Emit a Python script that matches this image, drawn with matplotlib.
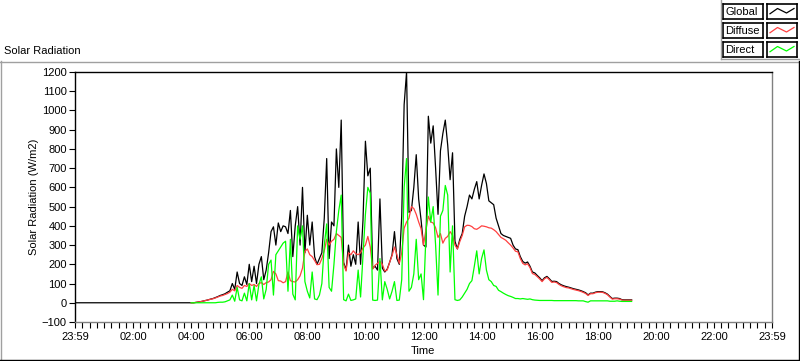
import matplotlib
matplotlib.use("Agg")
import matplotlib.pyplot as plt
from matplotlib.lines import Line2D
from matplotlib.ticker import MultipleLocator

plt.rcParams['font.family'] = ['Liberation Sans', 'DejaVu Sans']
plt.rcParams['font.size'] = 7.5

# sample times (first point is midnight, logger then runs every 5 min from 04:00)
times = ["00:00",
    "04:00", "04:05", "04:10", "04:15", "04:20", "04:25", "04:30", "04:35", "04:40", "04:45", "04:50", "04:55",
    "05:00", "05:05", "05:10", "05:15", "05:20", "05:25", "05:30", "05:35", "05:40", "05:45", "05:50", "05:55",
    "06:00", "06:05", "06:10", "06:15", "06:20", "06:25", "06:30", "06:35", "06:40", "06:45", "06:50", "06:55",
    "07:00", "07:05", "07:10", "07:15", "07:20", "07:25", "07:30", "07:35", "07:40", "07:45", "07:50", "07:55",
    "08:00", "08:05", "08:10", "08:15", "08:20", "08:25", "08:30", "08:35", "08:40", "08:45", "08:50", "08:55",
    "09:00", "09:05", "09:10", "09:15", "09:20", "09:25", "09:30", "09:35", "09:40", "09:45", "09:50", "09:55",
    "10:00", "10:05", "10:10", "10:15", "10:20", "10:25", "10:30", "10:35", "10:40", "10:45", "10:50", "10:55",
    "11:00", "11:05", "11:10", "11:15", "11:20", "11:25", "11:30", "11:35", "11:40", "11:45", "11:50", "11:55",
    "12:00", "12:05", "12:10", "12:15", "12:20", "12:25", "12:30", "12:35", "12:40", "12:45", "12:50", "12:55",
    "13:00", "13:05", "13:10", "13:15", "13:20", "13:25", "13:30", "13:35", "13:40", "13:45", "13:50", "13:55",
    "14:00", "14:05", "14:10", "14:15", "14:20", "14:25", "14:30", "14:35", "14:40", "14:45", "14:50", "14:55",
    "15:00", "15:05", "15:10", "15:15", "15:20", "15:25", "15:30", "15:35", "15:40", "15:45", "15:50", "15:55",
    "16:00", "16:05", "16:10", "16:15", "16:20", "16:25", "16:30", "16:35", "16:40", "16:45", "16:50", "16:55",
    "17:00", "17:05", "17:10", "17:15", "17:20", "17:25", "17:30", "17:35", "17:40", "17:45", "17:50", "17:55",
    "18:00", "18:05", "18:10", "18:15", "18:20", "18:25", "18:30", "18:35", "18:40", "18:45", "18:50", "18:55",
    "19:00", "19:05", "19:10"]

global_wm2 = [0,
    0, 0, 2, 4, 6, 9, 12, 15, 19, 22, 27, 32,
    38, 42, 47, 55, 62, 100, 70, 160, 100, 90, 135, 95,
    200, 110, 190, 100, 200, 240, 120, 170, 260, 370, 395, 300,
    415, 370, 400, 395, 360, 480, 240, 400, 500, 300, 600, 260,
    455, 300, 420, 240, 200, 230, 260, 440, 750, 230, 420, 400,
    800, 600, 950, 210, 170, 300, 190, 250, 200, 420, 200, 430,
    840, 660, 700, 180, 190, 170, 540, 180, 160, 175, 210, 250,
    370, 230, 200, 450, 1030, 1200, 470, 480, 600, 770, 540, 430,
    300, 290, 970, 830, 920, 700, 460, 790, 880, 950, 820, 640,
    780, 320, 280, 330, 360, 450, 500, 560, 540, 590, 630, 540,
    610, 670, 620, 530, 520, 510, 440, 400, 360, 350, 345, 340,
    335, 300, 280, 276, 240, 215, 206, 212, 190, 160, 155, 142,
    130, 115, 130, 137, 125, 111, 112, 110, 100, 93, 88, 84,
    81, 77, 73, 70, 67, 63, 58, 52, 41, 50, 50, 55,
    58, 58, 57, 52, 45, 33, 22, 24, 24, 22, 16, 15,
    15, 15, 15]

diffuse_wm2 = [0,
    0, 0, 2, 4, 6, 9, 12, 15, 18, 21, 25, 30,
    35, 38, 43, 48, 55, 70, 62, 90, 80, 75, 90, 85,
    100, 90, 95, 85, 100, 105, 95, 105, 108, 120, 163, 150,
    115, 113, 104, 110, 160, 115, 110, 108, 120, 140, 180, 267,
    280, 250, 240, 220, 198, 200, 230, 270, 330, 300, 320, 330,
    360, 350, 340, 200, 165, 260, 250, 270, 255, 250, 260, 285,
    300, 345, 290, 175, 195, 205, 215, 200, 165, 170, 210, 245,
    290, 250, 205, 260, 388, 420, 440, 500, 490, 460, 420, 385,
    300, 380, 450, 420, 415, 390, 340, 360, 310, 335, 345, 370,
    350, 300, 280, 318, 350, 395, 403, 402, 396, 385, 382, 390,
    400, 398, 395, 390, 388, 380, 370, 355, 340, 333, 325, 312,
    300, 285, 268, 265, 230, 205, 197, 203, 183, 152, 147, 136,
    124, 110, 125, 132, 120, 106, 108, 105, 95, 88, 83, 79,
    77, 73, 69, 66, 63, 59, 54, 48, 38, 47, 47, 52,
    55, 55, 54, 49, 42, 30, 19, 21, 21, 19, 14, 13,
    13, 13, 13]

direct_wm2 = [0,
    0, 0, 0, 0, 0, 0, 0, 0, 0, 0, 0, 2,
    3, 3, 5, 10, 15, 40, 8, 80, 15, 10, 50, 10,
    100, 15, 90, 10, 95, 135, 20, 70, 200, 222, 40, 250,
    270, 290, 310, 320, 60, 330, 45, 15, 400, 330, 400, 110,
    60, 25, 160, 20, 16, 40, 100, 300, 410, 80, 60, 200,
    370, 480, 560, 16, 10, 45, 12, 15, 20, 170, 30, 250,
    460, 600, 570, 14, 12, 14, 230, 15, 110, 70, 20, 60,
    110, 12, 14, 120, 600, 750, 60, 80, 150, 330, 120, 150,
    16, 350, 550, 420, 500, 300, 40, 450, 480, 610, 560, 160,
    400, 16, 12, 15, 30, 50, 70, 100, 115, 190, 270, 150,
    230, 275, 170, 120, 110, 90, 85, 65, 58, 50, 43, 37,
    33, 28, 22, 22, 20, 22, 20, 18, 20, 16, 14, 13,
    12, 12, 12, 12, 12, 12, 11, 11, 11, 11, 11, 11,
    11, 11, 11, 11, 10, 10, 10, 6, 3, 10, 10, 10,
    10, 10, 10, 10, 10, 8, 8, 8, 10, 8, 7, 7,
    7, 7, 7]

series_names = ["Global", "Diffuse", "Direct"]
series_colors = ["#000000", "#ff4040", "#00ff00"]

y_ticks = list(range(-100, 1201, 100))
x_tick_hours = [0, 2, 4, 6, 8, 10, 12, 14, 16, 18, 20, 22, 24]
x_tick_labels = ["23:59", "02:00", "04:00", "06:00", "08:00", "10:00", "12:00",
                 "14:00", "16:00", "18:00", "20:00", "22:00", "23:59"]


def to_hours(s):
    h, m = s.split(":")
    return int(h) + int(m) / 60.0


W, H = 800, 361
fig = plt.figure(figsize=(W / 100, H / 100), dpi=100)
fig.patch.set_facecolor("white")


def fx(x):
    return x / W


def fy(y):
    return 1 - y / H


def fig_line(xs, ys, color, lw=1.0):
    fig.add_artist(Line2D([fx(x) for x in xs], [fy(y) for y in ys],
                          color=color, lw=lw, transform=fig.transFigure))


# outer panel frame
fig_line([0, 799], [61.5, 61.5], "#a0a0a0")
fig_line([0.5, 0.5], [61, 360], "#a0a0a0")
fig_line([798.5, 798.5], [61, 360], "#000000")
fig_line([0, 799], [359.5, 359.5], "#000000")

# legend panel edges
fig_line([720.5, 720.5], [0, 58.5], "#a0a0a0")
fig_line([720.5, 800], [58.5, 58.5], "#a0a0a0")

# plot
ax = fig.add_axes([fx(75), fy(322), (772 - 75) / W, (322 - 72) / H])
t = [to_hours(s) for s in times]
ax.plot(t, global_wm2, color=series_colors[0], lw=0.9)
ax.plot(t[1:], diffuse_wm2[1:], color=series_colors[1], lw=0.9)
ax.plot(t[1:], direct_wm2[1:], color=series_colors[2], lw=0.9)

ax.set_xlim(0, 24)
ax.set_ylim(-100, 1200)
ax.set_yticks(y_ticks)
ax.set_xticks(x_tick_hours)
ax.set_xticklabels(x_tick_labels)
ax.xaxis.set_minor_locator(MultipleLocator(0.25))
ax.tick_params(axis='both', which='both', direction='out', length=4, width=0.8,
               pad=2, labelsize=8)
ax.tick_params(axis='x', pad=3)
for side in ["left", "top"]:
    ax.spines[side].set_color("#000000")
    ax.spines[side].set_linewidth(1.0)
for side in ["right", "bottom"]:
    ax.spines[side].set_color("#808080")
    ax.spines[side].set_linewidth(1.0)

fig.text(fx(4), fy(51), "Solar Radiation", ha="left", va="center", fontsize=8)
fig.text(fx(34), fy(197), "Solar Radiation (W/m2)", rotation=90,
         ha="center", va="center", fontsize=8)
fig.text(fx(423), fy(351), "Time", ha="center", va="center", fontsize=8)

# legend boxes
row_tops = [4, 23, 42]
for name, color, top in zip(series_names, series_colors, row_tops):
    lab = fig.add_axes([fx(723), fy(top + 15), 40 / W, 15 / H])
    lab.set_xticks([])
    lab.set_yticks([])
    for sp in lab.spines.values():
        sp.set_linewidth(1.2)
        sp.set_color("black")
    lab.text(0.06, 0.45, name, ha="left", va="center", fontsize=8,
             transform=lab.transAxes)
    smp = fig.add_axes([fx(767), fy(top + 15), 30 / W, 15 / H])
    smp.set_xticks([])
    smp.set_yticks([])
    for sp in smp.spines.values():
        sp.set_linewidth(1.2)
        sp.set_color("black")
    smp.plot([0.1, 0.35, 0.65, 0.9], [0.35, 0.7, 0.4, 0.7], color=color, lw=0.9)
    smp.set_xlim(0, 1)
    smp.set_ylim(0, 1)

fig.savefig("out.png", dpi=100)
